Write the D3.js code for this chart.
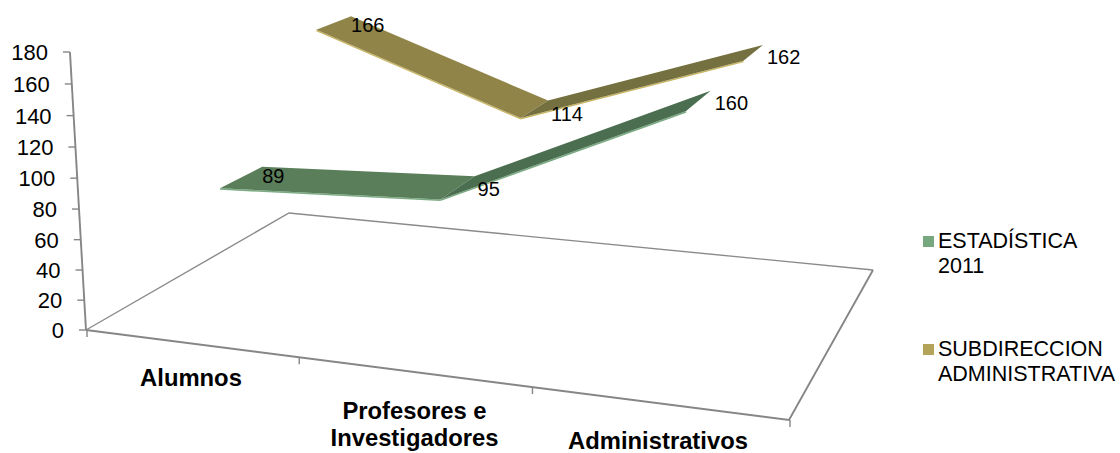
<!DOCTYPE html>
<html>
<head>
<meta charset="utf-8">
<script src="https://cdn.jsdelivr.net/npm/d3@7"></script>
<style>
  html, body { margin: 0; padding: 0; background: #fff; }
  text { font-family: "Liberation Sans", Arial, sans-serif; fill: #000; }
</style>
</head>
<body>
<svg id="chart" width="1120" height="453" style="display:block"></svg>
<script>
const categories = ['Alumnos', 'Profesores e|Investigadores', 'Administrativos']
const estadistica = [89, 95, 160]
const subdireccion = [166, 114, 162]
const yTicks = [0, 20, 40, 60, 80, 100, 120, 140, 160, 180]
const seriesNames = ['ESTADÍSTICA|2011', 'SUBDIRECCION|ADMINISTRATIVA']

const svg = d3.select('#chart')

// floor corners of the 3d box on screen
const fl = [86, 330], fr = [789, 420], br = [873, 270], bl = [289, 213]
const axisTop = [70, 52]

// unit square -> quad homography
function homography(p0, p1, p2, p3) {
  const dx1 = p1[0] - p2[0], dx2 = p3[0] - p2[0], sx = p0[0] - p1[0] + p2[0] - p3[0]
  const dy1 = p1[1] - p2[1], dy2 = p3[1] - p2[1], sy = p0[1] - p1[1] + p2[1] - p3[1]
  const det = dx1 * dy2 - dx2 * dy1
  const g = (sx * dy2 - dx2 * sy) / det
  const h = (dx1 * sy - sx * dy1) / det
  return [
    [p1[0] - p0[0] + g * p1[0], p3[0] - p0[0] + h * p3[0], p0[0]],
    [p1[1] - p0[1] + g * p1[1], p3[1] - p0[1] + h * p3[1], p0[1]],
    [g, h, 1]
  ]
}
const H = homography(fl, fr, br, bl)

// vertical column of the camera: lines converge on a point far below
const vanish = [500, 7500]
// solve the scale so that 180 lands on the axis top
const vScale = (axisTop[1] - fl[1]) / (vanish[1] - axisTop[1])
const V = [vanish[0] * vScale, vanish[1] * vScale, vScale]

const valScale = d3.scaleLinear().domain([0, 180]).range([0, 1])

function project(u, v, val) {
  const h = valScale(val)
  const X = H[0][0] * u + H[0][1] * v + H[0][2] + V[0] * h
  const Y = H[1][0] * u + H[1][1] * v + H[1][2] + V[1] * h
  const W = H[2][0] * u + H[2][1] * v + H[2][2] + V[2] * h
  return [X / W, Y / W]
}

const catU = d3.scalePoint().domain(d3.range(categories.length)).range([0.17, 0.837])
const line = d3.line()

// floor, the back edges are a bit thinner
svg.append('path')
  .attr('d', line([br, bl, fl]))
  .attr('fill', 'none')
  .attr('stroke', '#8a8a8a')
  .attr('stroke-width', 1.4)
svg.append('path')
  .attr('d', line([fl, fr, br]))
  .attr('fill', 'none')
  .attr('stroke', '#868686')
  .attr('stroke-width', 1.9)

// y axis
svg.append('path')
  .attr('d', line([project(0, 0, 0), project(0, 0, 180)]))
  .attr('stroke', '#868686')
  .attr('stroke-width', 1.9)

yTicks.forEach(t => {
  const p = project(0, 0, t)
  svg.append('line')
    .attr('x1', p[0] - 7).attr('x2', p[0]).attr('y1', p[1]).attr('y2', p[1])
    .attr('stroke', '#868686').attr('stroke-width', 1.4)
  svg.append('text')
    .attr('x', p[0] - 22).attr('y', p[1] + 8)
    .attr('text-anchor', 'end')
    .attr('font-size', 22)
    .text(t)
})

// category ticks
d3.range(categories.length + 1).forEach(i => {
  const p = project(i / categories.length, 0, 0)
  svg.append('line')
    .attr('x1', p[0] + 1).attr('x2', p[0] + 1).attr('y1', p[1]).attr('y2', p[1] + 7)
    .attr('stroke', '#868686').attr('stroke-width', 1.4)
})

// category labels
const catLabelX = [191, 414.5, 658]
const catLabelY = [385.5, 446, 449]
categories.forEach((c, i) => {
  const lines = c.split('|')
  lines.forEach((l, j) => {
    svg.append('text')
      .attr('x', catLabelX[i])
      .attr('y', catLabelY[i] + (j - lines.length + 1) * 27.5)
      .attr('text-anchor', 'middle')
      .attr('font-weight', 'bold')
      .attr('font-size', 23.8)
      .text(l)
  })
})

// ribbons, back series first
function ribbon(values, v0, v1, top1, top2, edge) {
  values.slice(1).forEach((val, i) => {
    const a = catU(i), b = catU(i + 1)
    const f0 = project(a, v0, values[i]), f1 = project(b, v0, val)
    const b0 = project(a, v1, values[i]), b1 = project(b, v1, val)
    const ft0 = project(a, v0, values[i] - 1), ft1 = project(b, v0, val - 1)
    svg.append('path').attr('d', line([f0, f1, ft1, ft0]) + 'Z').attr('fill', edge)
    svg.append('path').attr('d', line([f0, f1, b1, b0]) + 'Z').attr('fill', i === 0 ? top1 : top2)
  })
}
ribbon(subdireccion, 0.65, 0.85, '#908449', '#75703f', '#c9b662')
ribbon(estadistica, 0.15, 0.35, '#5a7d5a', '#4b6e50', '#7aab82')

// data labels
const labelOffset = [[0, 8], [3, 12], [4, 11]]
function dataLabels(values, v) {
  values.forEach((val, i) => {
    const p = project(catU(i), v, val)
    svg.append('text')
      .attr('x', p[0] + labelOffset[i][0])
      .attr('y', p[1] + labelOffset[i][1] + 8)
      .attr('font-size', 20)
      .text(val)
  })
}
dataLabels(subdireccion, 0.85)
dataLabels(estadistica, 0.35)

// legend
const legendColors = ['#77a77f', '#b3a45a']
const legendY = [236, 344]
seriesNames.forEach((s, i) => {
  svg.append('rect')
    .attr('x', 923).attr('y', legendY[i]).attr('width', 11).attr('height', 11)
    .attr('fill', legendColors[i])
  s.split('|').forEach((l, j) => {
    svg.append('text')
      .attr('x', 938).attr('y', legendY[i] + 12 + j * 25)
      .attr('font-size', 21.5)
      .text(l)
  })
})
</script>
</body>
</html>
